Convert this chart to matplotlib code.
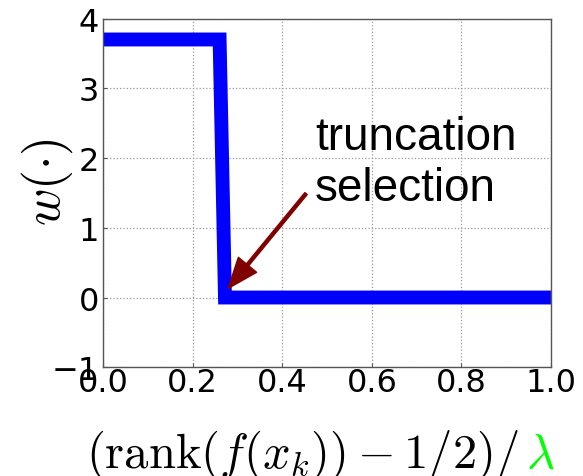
import matplotlib
matplotlib.use("Agg")
import matplotlib.pyplot as plt

# step-shaped weight function (truncation selection)
rank_x = [0.0, 0.26, 0.272, 1.0]
weight_y = [3.7, 3.7, 0.0, 0.0]
x_ticks = [0.0, 0.2, 0.4, 0.6, 0.8, 1.0]
y_ticks = [-1, 0, 1, 2, 3, 4]

# annotation
note_text = "truncation\nselection"
arrow_head = (0.279, 0.13)
arrow_tail = (0.453, 1.49)
note_pos = (0.473, 1.40)

plt.rcParams['mathtext.fontset'] = 'cm'

fig = plt.figure(figsize=(5.83, 4.77), dpi=100)
ax = fig.add_axes([0.177, 0.228, 0.768, 0.731])

ax.plot(rank_x, weight_y, color='#0000ff', lw=10, solid_joinstyle='miter',
        solid_capstyle='butt')

ax.set_xlim(0, 1)
ax.set_ylim(-1, 4)
ax.set_xticks(x_ticks)
ax.set_yticks(y_ticks)
ax.set_xticklabels(['0.0', '0.2', '0.4', '0.6', '0.8', '1.0'])
ax.set_yticklabels(['\u22121', '0', '1', '2', '3', '4'])
ax.tick_params(axis='both', direction='in', length=3, width=0.8, color='#555555',
               labelsize=23)
ax.tick_params(axis='x', pad=0)
ax.tick_params(axis='y', pad=3)
ax.grid(True, linestyle=':', color='#999999', lw=0.9)
for sp in ax.spines.values():
    sp.set_color('#555555')
    sp.set_linewidth(1.0)

ax.annotate('', xy=arrow_head, xytext=arrow_tail,
            arrowprops=dict(color='#800000', width=2.2, headwidth=17,
                            headlength=22, shrink=0))
ax.text(note_pos[0], note_pos[1], note_text, fontsize=33,
        family='Liberation Sans', va='baseline', ha='left')

# axis labels: lambda drawn separately in green
fig.text(0.081, 0.618, r'$w(\cdot)$', rotation=90, fontsize=37,
         ha='center', va='center')
fig.text(0.889, 0.019, r'$(\mathrm{rank}(f(x_k)) - 1/2)/$', fontsize=35,
         ha='right', va='baseline')
fig.text(0.902, 0.019, r'$\lambda$', fontsize=35, color='#00ff00',
         ha='left', va='baseline')

fig.savefig('out.png', dpi=100, facecolor='white')
